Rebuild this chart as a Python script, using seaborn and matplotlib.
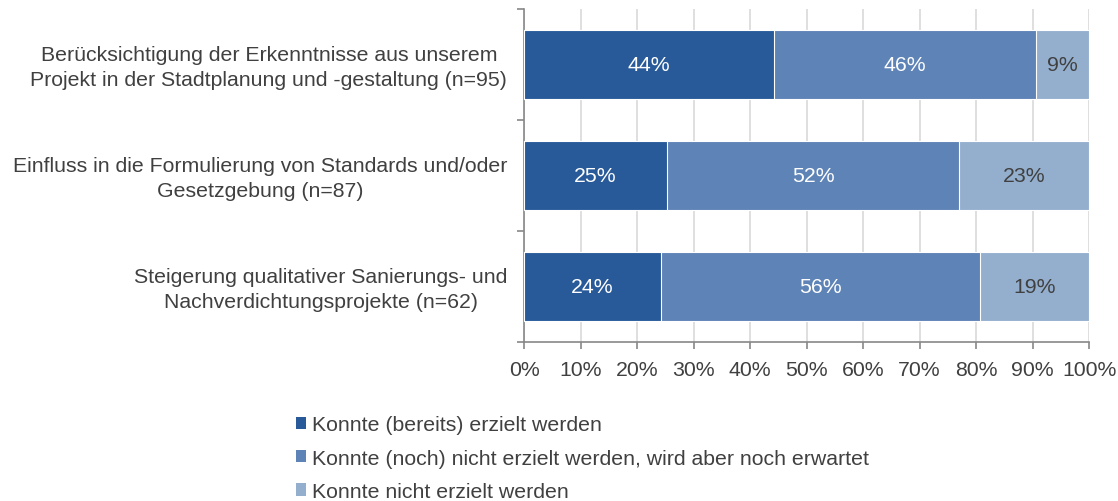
import numpy as np
import pandas as pd
import matplotlib
matplotlib.use("Agg")
import matplotlib.pyplot as plt
import matplotlib.transforms as mtransforms
from matplotlib.patches import Patch
from matplotlib.ticker import MultipleLocator, FuncFormatter
import seaborn as sns

# Survey items and answer counts per item
categories = [
    "Berücksichtigung der Erkenntnisse aus unserem\nProjekt in der Stadtplanung und -gestaltung (n=95)",
    "Einfluss in die Formulierung von Standards und/oder\nGesetzgebung (n=87)",
    "Steigerung qualitativer Sanierungs- und\nNachverdichtungsprojekte (n=62)",
]
achieved = [42, 22, 15]
expected = [44, 45, 35]
not_achieved = [9, 20, 12]
series_names = [
    "Konnte (bereits) erzielt werden",
    "Konnte (noch) nicht erzielt werden, wird aber noch erwartet",
    "Konnte nicht erzielt werden",
]
colors = ["#285a99", "#5e83b6", "#94afce"]
label_colors = ["white", "white", "#404040"]

FS = 15.3

sns.set_theme(style="white")
plt.rcParams["font.family"] = ["Liberation Sans", "DejaVu Sans"]

counts = np.array([achieved, expected, not_achieved], dtype=float)
shares = counts / counts.sum(axis=0) * 100
cum = np.cumsum(shares, axis=0)

df = pd.DataFrame({"item": categories})
for i in range(3):
    df[f"cum{i}"] = cum[i]

fig = plt.figure(figsize=(11.18, 5.02), dpi=100)
ax = fig.add_axes([0.4687, 0.317, 0.5055, 0.663])

# stacked bars: draw cumulative totals from back to front
for i in (2, 1, 0):
    sns.barplot(data=df, x=f"cum{i}", y="item", color=colors[i], orient="h",
                width=0.62, saturation=1, edgecolor="white", linewidth=0.8,
                ax=ax, zorder=3)

# percentage labels at segment centres
for r in range(len(categories)):
    start = 0.0
    for i in range(3):
        val = shares[i, r]
        ax.text(start + val / 2, r, f"{val:.0f}%", ha="center", va="center",
                color=label_colors[i], fontsize=FS, zorder=5)
        start += val

ax.set_xlim(0, 100)
ax.set_ylim(2.5, -0.5)
ax.set_xlabel("")
ax.set_ylabel("")
ax.xaxis.set_major_locator(MultipleLocator(10))
ax.xaxis.set_major_formatter(FuncFormatter(lambda v, p: f"{v:.0f}%"))
ax.grid(axis="x", color="#d9d9d9", linewidth=1.2, zorder=0)
ax.set_axisbelow(True)

for s in ("top", "right"):
    ax.spines[s].set_visible(False)
for s in ("left", "bottom"):
    ax.spines[s].set_color("#888888")
    ax.spines[s].set_linewidth(1.2)

ax.tick_params(axis="x", which="major", bottom=True, length=5, width=1.2,
               color="#888888", labelsize=FS, labelcolor="#404040", pad=8)
ax.tick_params(axis="y", which="major", left=False, length=0, labelsize=FS,
               labelcolor="#404040", pad=12)
ax.set_yticks([-0.5, 0.5, 1.5, 2.5], minor=True)
ax.tick_params(axis="y", which="minor", left=True, length=5, width=1.2,
               color="#888888")
lift = mtransforms.ScaledTranslation(0, 2.5 / 100, fig.dpi_scale_trans)
for lbl in ax.get_yticklabels():
    lbl.set_multialignment("center")
    lbl.set_linespacing(1.4)
    lbl.set_transform(lbl.get_transform() + lift)

handles = [Patch(facecolor=c, edgecolor="none") for c in colors]
fig.legend(handles, series_names, loc="upper left",
           bbox_to_anchor=(0.257, 0.188), frameon=False, fontsize=15.3,
           handlelength=0.5, handleheight=0.5, handletextpad=0.25,
           labelspacing=0.68, labelcolor="#404040", borderaxespad=0)

fig.savefig("out.png", dpi=100)
